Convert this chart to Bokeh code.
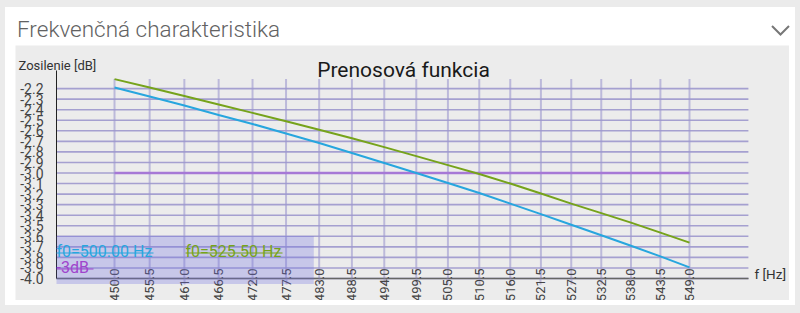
import math
from bokeh.plotting import figure
from bokeh.models import (FixedTicker, Label, BoxAnnotation, Range1d, Div,
                          PrintfTickFormatter)
from bokeh.layouts import column
from bokeh.embed import file_html
from bokeh.resources import INLINE

# ---------------- data ----------------
freq = [450.0, 455.5, 461.0, 466.5, 472.0, 477.5, 483.0, 488.5, 494.0, 499.5,
        505.0, 510.5, 516.0, 521.5, 527.0, 532.5, 538.0, 543.5, 549.0]
gain_f0_500 = [-2.19, -2.275, -2.36, -2.45, -2.535, -2.625, -2.715, -2.81, -2.905, -3.00,
               -3.095, -3.19, -3.29, -3.39, -3.49, -3.59, -3.69, -3.79, -3.895]
gain_f0_525 = [-2.11, -2.19, -2.27, -2.35, -2.43, -2.51, -2.59, -2.67, -2.755, -2.84,
               -2.925, -3.01, -3.10, -3.195, -3.29, -3.38, -3.47, -3.565, -3.66]
level_3db = -3.0
x_ticks = freq
y_ticks = [-2.2, -2.3, -2.4, -2.5, -2.6, -2.7, -2.8, -2.9, -3.0, -3.1,
           -3.2, -3.3, -3.4, -3.5, -3.6, -3.7, -3.8, -3.9, -4.0]
legend_labels = ["f0=500.00 Hz", "f0=525.50 Hz", "-3dB"]

# plot-area extents (axis box)
X_AXIS_START, X_AXIS_END = 441.06, 560.3
Y_AXIS_TOP = -2.028
Y_AXIS_BOTTOM = y_ticks[-1]

BLUE = "#27a6de"
GREEN = "#76a31b"
PURPLE_LINE = "#a678d6"
PURPLE_TEXT = "#a044cc"
CHART_BG = "#ececec"
GRID_H = "#8880c4"
GRID_V = "#9d97cf"

p = figure(width=774, height=255, x_axis_type="log",
           x_range=Range1d(434.85, 568.32), y_range=Range1d(-4.2085, -1.7915),
           output_backend="svg", toolbar_location=None,
           min_border_left=0, min_border_right=0, min_border_top=0, min_border_bottom=0,
           background_fill_color=CHART_BG, border_fill_color=CHART_BG,
           outline_line_color=None)

# horizontal grid lines
p.segment(x0=[X_AXIS_START] * len(y_ticks), y0=y_ticks,
          x1=[X_AXIS_END] * len(y_ticks), y1=y_ticks,
          line_color=GRID_H, line_alpha=0.7, line_width=1.6)
# vertical grid lines from data top down to axis
n = len(x_ticks)
p.segment(x0=x_ticks, y0=[Y_AXIS_BOTTOM] * n, x1=x_ticks, y1=[max(gain_f0_525)] * n,
          line_color=GRID_V, line_alpha=0.6, line_width=2)

# axes (inside the frame)
p.xaxis.fixed_location = Y_AXIS_BOTTOM
p.xaxis.bounds = (X_AXIS_START, X_AXIS_END)
p.xaxis.ticker = FixedTicker(ticks=x_ticks)
p.xaxis.formatter = PrintfTickFormatter(format="%.1f")
p.xaxis.major_label_orientation = math.pi / 2
p.xaxis.major_label_text_font = "Roboto"
p.xaxis.major_label_text_font_size = "13px"
p.xaxis.major_label_text_color = "#444444"
p.xaxis.major_tick_out = 6
p.xaxis.major_tick_in = 0
p.xaxis.major_tick_line_color = GRID_V
p.xaxis.major_tick_line_width = 2
p.xaxis.major_tick_line_alpha = 0.6
p.xaxis.minor_tick_line_color = None
p.xaxis.major_label_standoff = -16
p.xaxis.axis_line_color = "#666666"
p.xaxis.axis_line_width = 1.5

p.yaxis.fixed_location = X_AXIS_START
p.yaxis.bounds = (Y_AXIS_BOTTOM, Y_AXIS_TOP)
p.yaxis.ticker = FixedTicker(ticks=y_ticks)
p.yaxis.formatter = PrintfTickFormatter(format="%.1f")
p.yaxis.major_label_text_font = "Roboto"
p.yaxis.major_label_text_font_size = "14px"
p.yaxis.major_label_text_color = "#444444"
p.yaxis.major_tick_out = 0
p.yaxis.major_tick_in = 0
p.yaxis.minor_tick_line_color = None
p.yaxis.major_label_standoff = 13
p.yaxis.axis_line_color = "#222222"
p.yaxis.axis_line_width = 1

p.xgrid.visible = False
p.ygrid.visible = False

# data
p.line(freq, [level_3db] * len(freq), line_color=PURPLE_LINE, line_width=2.5)
p.line(freq, gain_f0_525, line_color=GREEN, line_width=2)
p.line(freq, gain_f0_500, line_color=BLUE, line_width=2)

# legend box
p.add_layout(BoxAnnotation(left=X_AXIS_START, right=482.1, bottom=-4.052, top=-3.597,
                           fill_color="#6f6fe0", fill_alpha=0.3, line_color=None))

def label(text, x, y, size, color, align="left"):
    p.add_layout(Label(x=x, y=y, x_units="screen", y_units="screen", text=text,
                       text_font="Roboto", text_font_size=size, text_color=color,
                       text_align=align, text_baseline="alphabetic"))

def underline(x0, x1, y, color):
    p.add_layout(BoxAnnotation(left=x0, right=x1, bottom=y - 0.6, top=y + 0.6,
                               left_units="screen", right_units="screen",
                               bottom_units="screen", top_units="screen",
                               fill_color=color, fill_alpha=1.0, line_color=None))

label(legend_labels[0], 41, 49, "16px", BLUE)
underline(41, 138, 47.5, BLUE)
label(legend_labels[1], 170, 49, "16px", GREEN)
underline(170, 267, 47.5, GREEN)
label(legend_labels[2], 41, 33, "16px", PURPLE_TEXT)
underline(41, 78, 31.5, PURPLE_TEXT)

label("Prenosová funkcia", 388, 231, "21px", "#1a1a1a", "center")
label("Zosilenie [dB]", 3, 235, "13px", "#333333")
label("f [Hz]", 739, 27, "13.5px", "#333333")

header_html = (
    '<div style="position:relative;width:790px;height:38px;">'
    '<span style="position:absolute;left:12px;top:11px;font-family:Roboto;'
    'font-weight:300;font-size:22.5px;line-height:22px;color:#626262;white-space:nowrap;">'
    'Frekvenčná charakteristika</span>'
    '<svg width="20" height="12" style="position:absolute;left:766px;top:18px;">'
    '<polyline points="1,1 9.5,9.5 18,1" fill="none" stroke="#777777" stroke-width="2"/>'
    '</svg></div>'
)
header = Div(text=header_html, width=790, height=38, margin=(0, 0, 0, 0))
p.margin = (0, 6, 5, 10)

card = column(header, p, spacing=0, margin=(7, 5, 8, 5),
              styles={"background-color": "#ffffff"})
root = column(card, spacing=0, width=800, height=313,
              styles={"background-color": "#ebebeb"})

open("out.html", "w").write(file_html(root, INLINE))
